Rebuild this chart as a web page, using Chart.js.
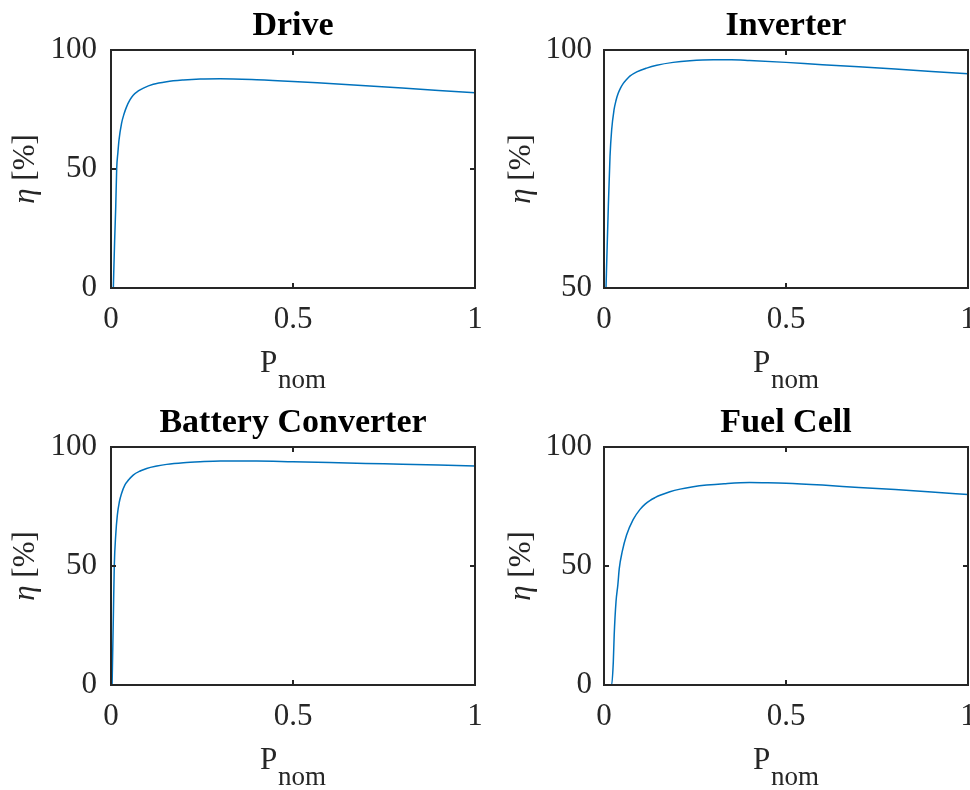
<!DOCTYPE html>
<html>
<head>
<meta charset="utf-8">
<script src="https://cdn.jsdelivr.net/npm/chart.js@4"></script>
<style>
  html, body { margin: 0; padding: 0; background: #fff; overflow: hidden; width: 970px; height: 790px; }
  canvas { position: absolute; }
</style>
</head>
<body>
<canvas id="c1" width="485" height="395" style="left:0;top:0"></canvas>
<canvas id="c2" width="500" height="395" style="left:485px;top:0"></canvas>
<canvas id="c3" width="485" height="395" style="left:0;top:395px"></canvas>
<canvas id="c4" width="500" height="395" style="left:485px;top:395px"></canvas>
<script>
// ---- data ----
const titles = ['Drive', 'Inverter', 'Battery Converter', 'Fuel Cell'];
const xTicks = [0, 0.5, 1];
const xTickLabels = ['0', '0.5', '1'];
const yTicksFull = [0, 50, 100];
const yTicksInverter = [50, 100];

const driveX = [0.0064, 0.010, 0.013, 0.0156, 0.019, 0.022, 0.029, 0.036, 0.043, 0.052, 0.061, 0.075, 0.089, 0.116, 0.153, 0.199, 0.245, 0.3, 0.4, 0.5, 0.6, 0.7, 0.8, 0.9, 1.0];
const driveY = [0, 20, 34, 50, 57, 62.2, 69.2, 73.2, 76.2, 79.0, 81.0, 82.8, 84.0, 85.6, 86.7, 87.4, 87.8, 87.9, 87.5, 86.8, 85.9, 85.0, 84.0, 83.0, 82.0];

const inverterX = [0.0055, 0.0088, 0.0119, 0.0165, 0.021, 0.0275, 0.033, 0.039, 0.046, 0.053, 0.062, 0.071, 0.09, 0.117, 0.145, 0.19, 0.236, 0.3, 0.35, 0.4, 0.5, 0.6, 0.7, 0.8, 0.9, 1.0];
const inverterY = [50, 59, 67.1, 77.6, 83.2, 87.4, 89.4, 90.9, 92.1, 93.0, 93.8, 94.5, 95.4, 96.2, 96.8, 97.4, 97.75, 97.95, 97.95, 97.8, 97.4, 96.9, 96.5, 96.0, 95.5, 95.0];

const batteryX = [0.003, 0.0064, 0.009, 0.013, 0.0174, 0.023, 0.029, 0.038, 0.048, 0.061, 0.080, 0.098, 0.126, 0.153, 0.199, 0.245, 0.3, 0.4, 0.5, 0.6, 0.7, 0.8, 0.9, 1.0];
const batteryY = [0, 28, 50, 63, 71.4, 77, 80.5, 84, 86.1, 88.2, 89.9, 91.0, 92.0, 92.7, 93.4, 93.8, 94.1, 94.1, 93.8, 93.5, 93.1, 92.8, 92.4, 92.0];

const fuelX = [0, 0.021, 0.0256, 0.028, 0.033, 0.038, 0.042, 0.05, 0.062, 0.08, 0.099, 0.113, 0.126, 0.14, 0.154, 0.181, 0.209, 0.245, 0.282, 0.33, 0.4, 0.45, 0.5, 0.6, 0.7, 0.8, 0.9, 1.0];
const fuelY = [0, 0, 9.8, 21, 35, 42, 49, 56, 63, 69.5, 73.8, 76.0, 77.5, 78.7, 79.7, 81.2, 82.3, 83.3, 84.0, 84.6, 85.1, 85.0, 84.8, 84.0, 83.0, 82.1, 81.1, 80.0];

// ---- styling ----
const AXIS = '#262626';
const LINE = '#0072BD';
const FONT = "'Liberation Serif', 'Times New Roman', serif";

const decor = {
  id: 'decor',
  afterDatasetsDraw(chart, args, opts) {
    const ctx = chart.ctx;
    const a = chart.chartArea;
    const xs = chart.scales.x, ys = chart.scales.y;
    ctx.save();
    ctx.strokeStyle = AXIS;
    ctx.lineWidth = 2;
    ctx.strokeRect(a.left, a.top, a.right - a.left, a.bottom - a.top);
    const tl = 5;
    ctx.beginPath();
    xs.ticks.forEach(t => {
      const px = xs.getPixelForValue(t.value);
      ctx.moveTo(px, a.bottom); ctx.lineTo(px, a.bottom - tl);
      ctx.moveTo(px, a.top); ctx.lineTo(px, a.top + tl);
    });
    ys.ticks.forEach(t => {
      const py = ys.getPixelForValue(t.value);
      ctx.moveTo(a.left, py); ctx.lineTo(a.left + tl, py);
      ctx.moveTo(a.right, py); ctx.lineTo(a.right - tl, py);
    });
    ctx.stroke();

    // title
    ctx.fillStyle = '#000';
    ctx.font = "bold 34px " + FONT;
    ctx.textAlign = 'center';
    ctx.textBaseline = 'alphabetic';
    const cx = (a.left + a.right) / 2;
    ctx.fillText(opts.title, cx, a.top - 15);

    // x label P_nom
    ctx.fillStyle = AXIS;
    ctx.textAlign = 'left';
    ctx.font = "31px " + FONT;
    const wP = ctx.measureText('P').width;
    ctx.font = "27px " + FONT;
    const wN = ctx.measureText('nom').width;
    const sx = cx - (wP + wN + 1) / 2;
    ctx.font = "31px " + FONT;
    ctx.fillText('P', sx, a.bottom + 84);
    ctx.font = "27px " + FONT;
    ctx.fillText('nom', sx + wP + 1, a.bottom + 100);

    // y label  η [%]
    const cy = (a.top + a.bottom) / 2;
    ctx.translate(a.left - opts.yLabelOffset, cy);
    ctx.rotate(-Math.PI / 2);
    ctx.textBaseline = 'middle';
    ctx.font = "italic 31px " + FONT;
    const wEta = ctx.measureText('η').width;
    ctx.font = "31px " + FONT;
    const wRest = ctx.measureText(' [%]').width;
    const start = -(wEta + wRest) / 2;
    ctx.font = "italic 31px " + FONT;
    ctx.fillText('η', start, 0);
    ctx.font = "31px " + FONT;
    ctx.fillText(' [%]', start + wEta, 0);
    ctx.restore();
  }
};

function makeChart(id, title, xv, yv, yTicks, cfg) {
  const pts = xv.map((x, i) => ({x: x, y: yv[i]}));
  new Chart(document.getElementById(id), {
    type: 'line',
    data: {
      datasets: [{
        data: pts,
        borderColor: LINE,
        borderWidth: 1.5,
        pointRadius: 0,
        fill: false,
        cubicInterpolationMode: 'monotone'
      }]
    },
    options: {
      responsive: false,
      animation: false,
      events: [],
      layout: { padding: { top: cfg.top, right: cfg.right, left: 0, bottom: 0 } },
      plugins: {
        legend: { display: false },
        tooltip: { enabled: false },
        decor: { title: title, yLabelOffset: cfg.yLabelOffset }
      },
      scales: {
        x: {
          type: 'linear',
          min: 0, max: 1,
          grid: { display: false, drawTicks: false },
          border: { display: false },
          afterBuildTicks: s => { s.ticks = xTicks.map(v => ({value: v})); },
          afterFit: s => { s.height = cfg.xHeight; s.paddingLeft = 0; s.paddingRight = 0; },
          ticks: {
            padding: 13,
            maxRotation: 0,
            autoSkip: false,
            color: AXIS,
            font: { family: FONT, size: 31 },
            callback: (v, i) => xTickLabels[i]
          }
        },
        y: {
          type: 'linear',
          min: yTicks[0], max: yTicks[yTicks.length - 1],
          grid: { display: false, drawTicks: false },
          border: { display: false },
          afterBuildTicks: s => { s.ticks = yTicks.map(v => ({value: v})); },
          afterFit: s => { s.width = cfg.yWidth; s.paddingTop = 0; s.paddingBottom = 0; },
          ticks: {
            padding: cfg.yPad,
            autoSkip: false,
            color: AXIS,
            font: { family: FONT, size: 31 },
            callback: v => String(v)
          }
        }
      }
    },
    plugins: [decor]
  });
}

makeChart('c1', titles[0], driveX, driveY, yTicksFull,
  { top: 50, right: 10, xHeight: 107, yWidth: 111, yPad: 14, yLabelOffset: 85 });
makeChart('c2', titles[1], inverterX, inverterY, yTicksInverter,
  { top: 50, right: 17, xHeight: 107, yWidth: 119, yPad: 12, yLabelOffset: 82 });
makeChart('c3', titles[2], batteryX, batteryY, yTicksFull,
  { top: 52, right: 10, xHeight: 105, yWidth: 111, yPad: 14, yLabelOffset: 85 });
makeChart('c4', titles[3], fuelX, fuelY, yTicksFull,
  { top: 52, right: 17, xHeight: 105, yWidth: 119, yPad: 12, yLabelOffset: 82 });
</script>
</body>
</html>
